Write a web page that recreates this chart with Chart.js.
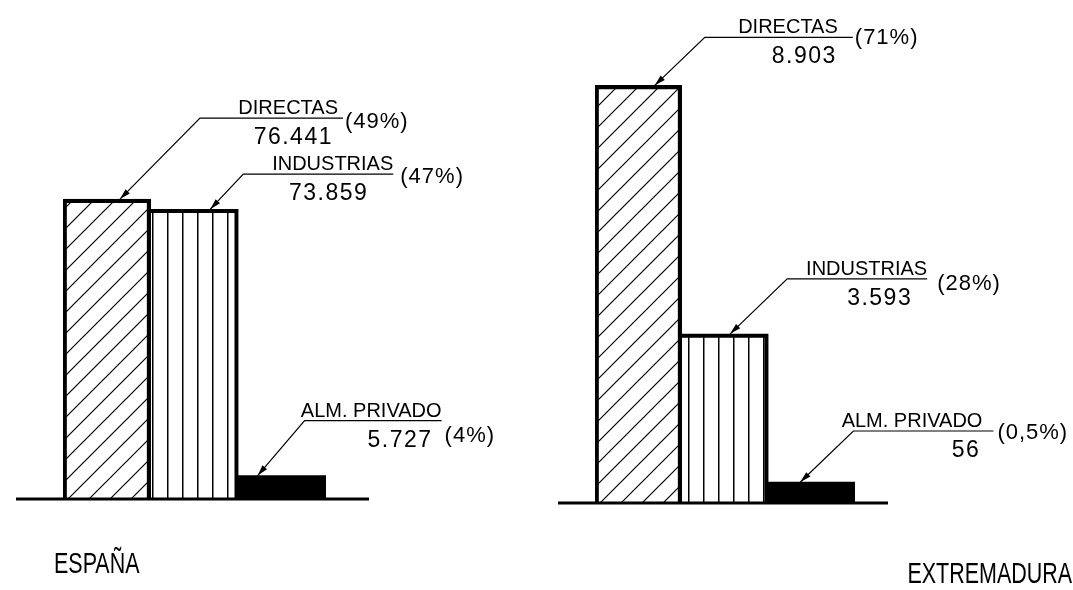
<!DOCTYPE html>
<html>
<head>
<meta charset="utf-8">
<script src="https://cdn.jsdelivr.net/npm/chart.js@4.4.0/dist/chart.umd.min.js"></script>
<style>
body { margin: 0; background: #fff; width: 1073px; height: 590px; overflow: hidden; position: relative; }
canvas { position: absolute; top: 0; }
#espana { left: 0; }
#extremadura { left: 536px; }
</style>
</head>
<body>
<canvas id="espana" width="536" height="590"></canvas>
<canvas id="extremadura" width="537" height="590"></canvas>
<script>
// data
var categories = ['DIRECTAS', 'INDUSTRIAS', 'ALM. PRIVADO'];
var regions = ['ESPAÑA', 'EXTREMADURA'];
var espanaValues = [76441, 73859, 5727];
var espanaShares = [49, 47, 4];
var extremaduraValues = [8903, 3593, 56];
var extremaduraShares = [71, 28, 0.5];

// hatch fills
function diagHatch() {
    var s = 21;
    var c = document.createElement('canvas');
    c.width = s; c.height = s;
    var g = c.getContext('2d');
    g.strokeStyle = '#000';
    g.lineWidth = 1.2;
    g.beginPath();
    g.moveTo(0, s); g.lineTo(s, 0);
    g.moveTo(-2, 2); g.lineTo(2, -2);
    g.moveTo(s - 2, s + 2); g.lineTo(s + 2, s - 2);
    g.stroke();
    return g.createPattern(c, 'repeat');
}
function vertHatch() {
    var c = document.createElement('canvas');
    c.width = 15; c.height = 4;
    var g = c.getContext('2d');
    g.fillStyle = '#000';
    g.fillRect(2, 0, 1.5, 4);
    return g.createPattern(c, 'repeat');
}
var fills = [diagHatch(), vertHatch(), '#000'];
var edges = [
    { top: 3.5, left: 3.5, right: 3.5, bottom: 0 },
    { top: 3.5, left: 0, right: 3.5, bottom: 0 },
    0
];

function groupDots(n) {
    return String(n).replace(/\B(?=(\d{3})+(?!\d))/g, '.');
}
function shareText(p) {
    return '(' + String(p).replace('.', ',') + '%)';
}

// ─── ANNOTATIONS ────────────────────────────────────────────────
function drawExtras(chart, panel) {
    var ctx = chart.ctx;
    var area = chart.chartArea;
    var y0 = chart.scales.y.getPixelForValue(0);
    ctx.save();
    ctx.strokeStyle = '#000';
    ctx.fillStyle = '#000';

    ctx.lineWidth = 3;
    ctx.beginPath();
    ctx.moveTo(area.left - panel.baseLeft, y0 + 1);
    ctx.lineTo(area.right + panel.baseRight, y0 + 1);
    ctx.stroke();

    var bars = chart.getDatasetMeta(0).data;
    for (var i = 0; i < bars.length; i++) {
        var bar = bars[i];
        var note = panel.notes[i];
        var tipX = bar.x - bar.width / 2 + note.tip * bar.width;
        var tipY = bar.y;
        var ex = tipX + note.dx;
        var ey = tipY - note.dy;
        var endX = ex + note.len;

        ctx.lineWidth = 1.2;
        ctx.beginPath();
        ctx.moveTo(tipX, tipY);
        ctx.lineTo(ex, ey);
        ctx.lineTo(endX, ey);
        ctx.stroke();

        var a = Math.atan2(tipY - ey, tipX - ex);
        ctx.beginPath();
        ctx.moveTo(tipX, tipY);
        ctx.lineTo(tipX - 11 * Math.cos(a) + 3 * Math.sin(a), tipY - 11 * Math.sin(a) - 3 * Math.cos(a));
        ctx.lineTo(tipX - 11 * Math.cos(a) - 3 * Math.sin(a), tipY - 11 * Math.sin(a) + 3 * Math.cos(a));
        ctx.closePath();
        ctx.fill();

        ctx.textAlign = 'right';
        ctx.textBaseline = 'alphabetic';
        ctx.font = '20px "Liberation Sans", Arial, sans-serif';
        ctx.letterSpacing = '0px';
        ctx.fillText(chart.data.labels[i], endX - note.labelInset, ey - 4);

        ctx.font = '23px "Liberation Sans", Arial, sans-serif';
        ctx.letterSpacing = '1.5px';
        ctx.fillText(groupDots(chart.data.datasets[0].data[i]), endX - note.valueInset, ey + 26);

        ctx.font = '22px "Liberation Sans", Arial, sans-serif';
        ctx.textAlign = 'left';
        ctx.textBaseline = 'middle';
        ctx.letterSpacing = '1px';
        ctx.fillText(shareText(panel.shares[i]), endX + note.pctGap, ey + note.pctDy);
    }

    // condensed region name
    ctx.letterSpacing = '0px';
    ctx.font = '29px "Liberation Sans", Arial, sans-serif';
    ctx.textAlign = panel.titleAlign;
    ctx.textBaseline = 'alphabetic';
    ctx.translate(panel.titleX, panel.titleY);
    ctx.scale(0.74, 1);
    ctx.fillText(panel.title, 0, 0);
    ctx.restore();
}

function makePanel(id, values, panel) {
    return new Chart(document.getElementById(id), {
        type: 'bar',
        data: {
            labels: categories,
            datasets: [{
                data: values,
                backgroundColor: fills,
                borderColor: '#000',
                borderWidth: function (c) { return edges[c.dataIndex]; },
                categoryPercentage: 1,
                barPercentage: 1,
                minBarLength: 20
            }]
        },
        options: {
            responsive: false,
            animation: false,
            devicePixelRatio: 1,
            layout: { padding: panel.padding },
            scales: {
                x: { display: false },
                y: { display: false, min: 0, max: panel.yMax }
            },
            plugins: { legend: { display: false }, tooltip: { enabled: false } }
        },
        plugins: [{
            id: 'sketch',
            afterDraw: function (chart) { drawExtras(chart, panel); }
        }]
    });
}

makePanel('espana', espanaValues, {
    title: regions[0], titleX: 54, titleY: 573, titleAlign: 'left',
    shares: espanaShares,
    yMax: 100000,
    padding: { left: 63, right: 210, top: 107, bottom: 92 },
    baseLeft: 47, baseRight: 43,
    notes: [
        { tip: 0.65, dx: 80, dy: 81, len: 143, labelInset: 5, valueInset: 10, pctGap: 2, pctDy: 4 },
        { tip: 0.68, dx: 33, dy: 35, len: 150, labelInset: 0, valueInset: 25, pctGap: 7, pctDy: 3 },
        { tip: 0.22, dx: 47, dy: 55, len: 137, labelInset: 0, valueInset: 9, pctGap: 3, pctDy: 15 }
    ]
});

makePanel('extremadura', extremaduraValues, {
    title: regions[1], titleX: 536, titleY: 583, titleAlign: 'right',
    shares: extremaduraShares,
    yMax: 10000,
    padding: { left: 59, right: 218, top: 34, bottom: 88 },
    baseLeft: 37, baseRight: 33,
    notes: [
        { tip: 0.69, dx: 50, dy: 48, len: 148, labelInset: 15, valueInset: 16, pctGap: 2, pctDy: 1 },
        { tip: 0.56, dx: 57, dy: 55, len: 140, labelInset: 0, valueInset: 15, pctGap: 10, pctDy: 5 },
        { tip: 0.37, dx: 53, dy: 51, len: 140, labelInset: 11, valueInset: 13, pctGap: 4, pctDy: 2 }
    ]
});
</script>
</body>
</html>
